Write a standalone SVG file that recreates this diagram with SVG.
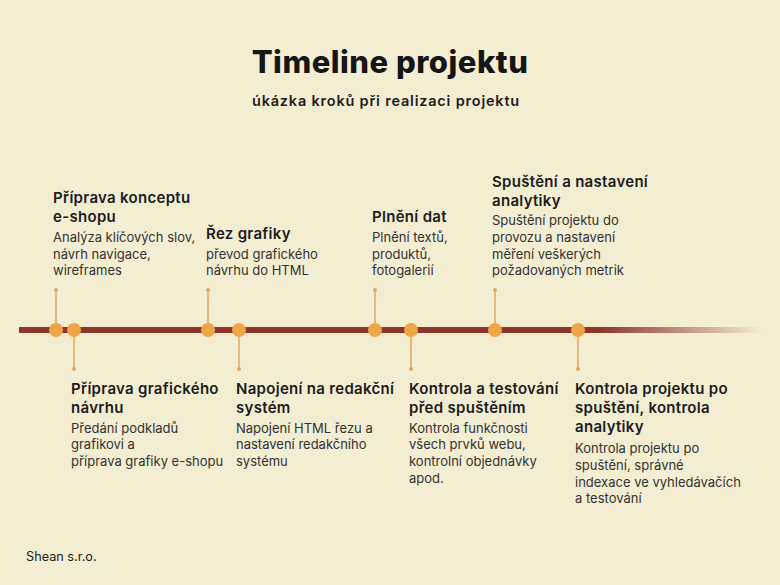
<svg xmlns="http://www.w3.org/2000/svg" width="780" height="585" viewBox="0 0 780 585">
<defs>
<linearGradient id="axisGrad" x1="19" y1="0" x2="762" y2="0" gradientUnits="userSpaceOnUse">
<stop offset="0" stop-color="#8C3529" stop-opacity="1"/>
<stop offset="0.78" stop-color="#8C3529" stop-opacity="1"/>
<stop offset="1" stop-color="#8C3529" stop-opacity="0"/>
</linearGradient>
<style>
.bg{fill:#F3EDD2}
.title{font-family:Inter,"Noto Sans","DejaVu Sans",sans-serif;font-weight:800;font-size:31px;letter-spacing:0.5px;fill:#161616}
.sub{font-family:Inter,"Noto Sans","DejaVu Sans",sans-serif;font-weight:600;font-size:14.5px;letter-spacing:0.8px;fill:#1e1e1e}
.h{font-family:Inter,"Noto Sans","DejaVu Sans",sans-serif;font-weight:600;font-size:15px;letter-spacing:0.3px;fill:#1c1c1c}
.d{font-family:Inter,"Noto Sans","DejaVu Sans",sans-serif;font-weight:400;font-size:13px;fill:#333}
.foot{font-family:Inter,"Noto Sans","DejaVu Sans",sans-serif;font-weight:400;font-size:12.7px;fill:#222}
.stem{stroke:#E6A45A;stroke-width:1.5;fill:none}
.tip{fill:#E6A45A}
.dot{fill:#EFA548}
</style>
</defs>
<rect class="bg" x="0" y="0" width="780" height="585"/>
<text class="title" x="390" y="73" text-anchor="middle">Timeline projektu</text>
<text class="sub" x="386" y="106" text-anchor="middle">úkázka kroků při realizaci projektu</text>

<g id="connectors">
<rect x="19" y="327" width="743" height="6" fill="url(#axisGrad)"/>
<line class="stem" x1="56" y1="290" x2="56" y2="330"/><circle class="tip" cx="56" cy="290" r="2"/>
<line class="stem" x1="74" y1="330" x2="74" y2="369"/><circle class="tip" cx="74" cy="369" r="2"/>
<line class="stem" x1="208" y1="290" x2="208" y2="330"/><circle class="tip" cx="208" cy="290" r="2"/>
<line class="stem" x1="239" y1="330" x2="239" y2="369"/><circle class="tip" cx="239" cy="369" r="2"/>
<line class="stem" x1="375" y1="290" x2="375" y2="330"/><circle class="tip" cx="375" cy="290" r="2"/>
<line class="stem" x1="411" y1="330" x2="411" y2="369"/><circle class="tip" cx="411" cy="369" r="2"/>
<line class="stem" x1="495" y1="290" x2="495" y2="330"/><circle class="tip" cx="495" cy="290" r="2"/>
<line class="stem" x1="578" y1="330" x2="578" y2="369"/><circle class="tip" cx="578" cy="369" r="2"/>
</g>

<g id="node1">
<circle class="dot" cx="56" cy="330" r="7"/>
<text class="h" x="53" y="203">Příprava konceptu</text>
<text class="h" x="53" y="222">e-shopu</text>
<text class="d" x="53" y="242">Analýza klíčových slov,</text>
<text class="d" x="53" y="259">návrh navigace,</text>
<text class="d" x="53" y="275">wireframes</text>
</g>

<g id="node2">
<circle class="dot" cx="74" cy="330" r="7"/>
<text class="h" x="71" y="394">Příprava grafického</text>
<text class="h" x="71" y="413">návrhu</text>
<text class="d" x="71" y="433">Předání podkladů</text>
<text class="d" x="71" y="449">grafikovi a</text>
<text class="d" x="71" y="466">příprava grafiky e-shopu</text>
</g>

<g id="node3">
<circle class="dot" cx="208" cy="330" r="7"/>
<text class="h" x="206" y="239">Řez grafiky</text>
<text class="d" x="206" y="259">převod grafického</text>
<text class="d" x="206" y="275">návrhu do HTML</text>
</g>

<g id="node4">
<circle class="dot" cx="239" cy="330" r="7"/>
<text class="h" x="236" y="394">Napojení na redakční</text>
<text class="h" x="236" y="413">systém</text>
<text class="d" x="236" y="433">Napojení HTML řezu a</text>
<text class="d" x="236" y="449">nastavení redakčního</text>
<text class="d" x="236" y="466">systému</text>
</g>

<g id="node5">
<circle class="dot" cx="375" cy="330" r="7"/>
<text class="h" x="372" y="222">Plnění dat</text>
<text class="d" x="372" y="242">Plnění textů,</text>
<text class="d" x="372" y="259">produktů,</text>
<text class="d" x="372" y="275">fotogalerií</text>
</g>

<g id="node6">
<circle class="dot" cx="411" cy="330" r="7"/>
<text class="h" x="409" y="394">Kontrola a testování</text>
<text class="h" x="409" y="413">před spuštěním</text>
<text class="d" x="409" y="433">Kontrola funkčnosti</text>
<text class="d" x="409" y="449">všech prvků webu,</text>
<text class="d" x="409" y="466">kontrolní objednávky</text>
<text class="d" x="409" y="483">apod.</text>
</g>

<g id="node7">
<circle class="dot" cx="495" cy="330" r="7"/>
<text class="h" x="492" y="187">Spuštění a nastavení</text>
<text class="h" x="492" y="206">analytiky</text>
<text class="d" x="492" y="225">Spuštění projektu do</text>
<text class="d" x="492" y="242">provozu a nastavení</text>
<text class="d" x="492" y="259">měření veškerých</text>
<text class="d" x="492" y="275">požadovaných metrik</text>
</g>

<g id="node8">
<circle class="dot" cx="578" cy="330" r="7"/>
<text class="h" x="575" y="394">Kontrola projektu po</text>
<text class="h" x="575" y="413">spuštění, kontrola</text>
<text class="h" x="575" y="432">analytiky</text>
<text class="d" x="575" y="453">Kontrola projektu po</text>
<text class="d" x="575" y="470">spuštění, správné</text>
<text class="d" x="575" y="487">indexace ve vyhledávačích</text>
<text class="d" x="575" y="503">a testování</text>
</g>

<text class="foot" x="26" y="561">Shean s.r.o.</text>
</svg>
